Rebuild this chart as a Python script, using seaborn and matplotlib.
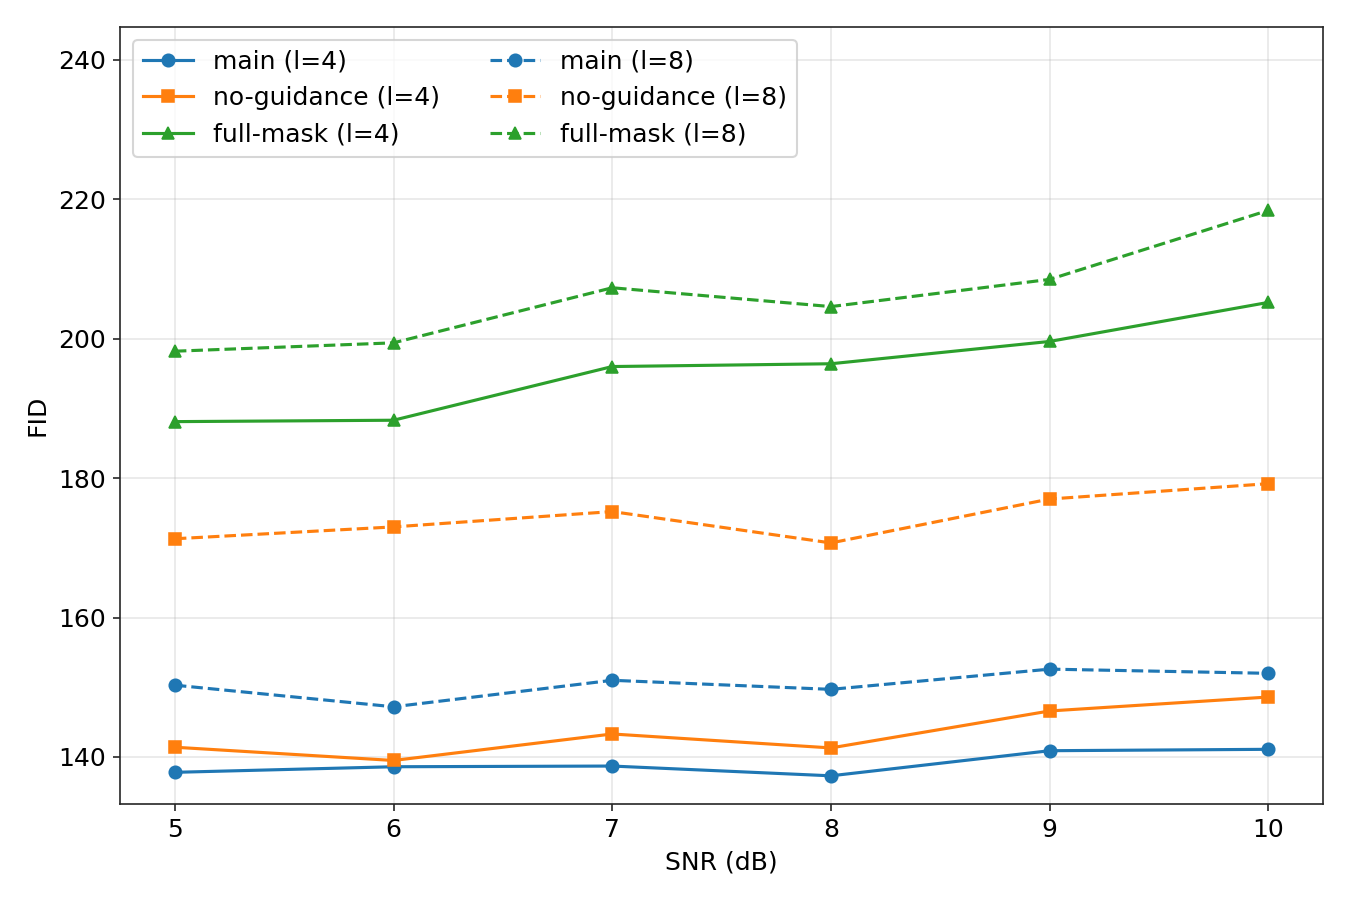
"""FID vs SNR chart for the guidance ablation."""
import matplotlib

matplotlib.use("Agg")

import matplotlib.pyplot as plt
import pandas as pd
import seaborn as sns

snr_db = [5, 6, 7, 8, 9, 10]

main_l4 = [137.8, 138.6, 138.7, 137.3, 140.9, 141.1]
no_guidance_l4 = [141.4, 139.5, 143.3, 141.3, 146.6, 148.6]
full_mask_l4 = [188.1, 188.3, 196.0, 196.4, 199.6, 205.2]

main_l8 = [150.3, 147.2, 151.0, 149.7, 152.6, 152.0]
no_guidance_l8 = [171.3, 173.0, 175.2, 170.7, 177.0, 179.2]
full_mask_l8 = [198.2, 199.4, 207.3, 204.6, 208.5, 218.4]

series = [
    ("main (l=4)", main_l4, "#1f77b4", "o", "-"),
    ("no-guidance (l=4)", no_guidance_l4, "#ff7f0e", "s", "-"),
    ("full-mask (l=4)", full_mask_l4, "#2ca02c", "^", "-"),
    ("main (l=8)", main_l8, "#1f77b4", "o", "--"),
    ("no-guidance (l=8)", no_guidance_l8, "#ff7f0e", "s", "--"),
    ("full-mask (l=8)", full_mask_l8, "#2ca02c", "^", "--"),
]

plt.rcParams["font.size"] = 12
plt.rcParams["axes.edgecolor"] = "#262626"
plt.rcParams["xtick.color"] = "#262626"
plt.rcParams["ytick.color"] = "#262626"
plt.rcParams["xtick.labelcolor"] = "black"
plt.rcParams["ytick.labelcolor"] = "black"

fig, ax = plt.subplots(figsize=(9, 6))
for label, values, color, marker, ls in series:
    df = pd.DataFrame({"snr": snr_db, "fid": values})
    sns.lineplot(data=df, x="snr", y="fid", ax=ax, label=label, color=color,
                 marker=marker, linestyle=ls, markersize=6, linewidth=1.5,
                 markeredgecolor=color)

ax.set_xlabel("SNR (dB)")
ax.set_ylabel("FID")
ax.set_xticks(snr_db)
ax.set_xlim(4.75, 10.25)
ax.set_ylim(133.3, 244.7)
ax.grid(True, alpha=0.3)
ax.legend(ncol=2, loc="upper left")
fig.subplots_adjust(left=0.089, right=0.98, top=0.97, bottom=0.107)
fig.savefig("out.png", dpi=150)
plt.close(fig)
